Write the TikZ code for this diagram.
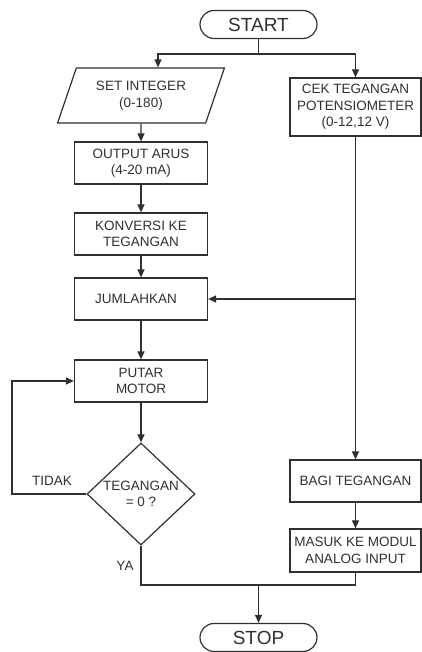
\documentclass[tikz,border=0pt]{standalone}
\usepackage{fontspec}
\setmainfont{Liberation Sans}
\usetikzlibrary{shapes.geometric, arrows.meta}

\definecolor{linegray}{HTML}{303030}

\tikzset{
  flow/.style={draw=linegray, line width=1.2pt, text=linegray, align=center,
    font=\fontsize{13.5}{16.5}\selectfont},
  proc/.style={flow, rectangle, minimum width=133pt, minimum height=42pt, inner sep=2pt},
  term/.style={flow, rectangle, rounded corners=14pt, minimum width=117pt,
    minimum height=28pt, font=\fontsize{19}{22}\selectfont},
  io/.style={flow, trapezium, trapezium left angle=65.6, trapezium right angle=114.4,
    trapezium stretches=true, minimum width=167pt, minimum height=55pt, inner sep=0pt},
  decide/.style={flow, diamond, aspect=1.06, minimum width=108pt, minimum height=102pt, inner sep=0pt},
  wire/.style={draw=linegray, line width=1.2pt},
  arr/.style={wire, -{Triangle[length=8pt, width=7pt]}},
}

\begin{document}
\begin{tikzpicture}[x=1pt, y=1pt]
  \useasboundingbox (0,0) rectangle (421,652);

  % terminals
  \node[term] (start) at (258.5,627.5) {START};
  \node[term] (stop)  at (258.5,14.5)  {STOP};

  % left column
  \node[io]   (setint) at (141,556.5) {SET INTEGER\\(0-180)};
  \node[proc] (arus)   at (141,489)   {OUTPUT ARUS\\(4-20 mA)};
  \node[proc] (konv)   at (141,418)   {KONVERSI KE\\TEGANGAN};
  \node[proc] (jumlah) at (141,353)   {JUMLAHKAN\hspace*{10pt}};
  \node[proc] (putar)  at (141,271)   {PUTAR\\MOTOR};
  \node[decide] (cek0) at (141,158)   {TEGANGAN\\= 0 ?};

  % right column
  \node[proc, minimum width=131pt, minimum height=58pt] (cekpot) at (355.5,545)
    {CEK TEGANGAN\\POTENSIOMETER\\(0-12,12 V)};
  \node[proc, minimum width=131pt] (bagi)  at (355.5,171)   {BAGI TEGANGAN};
  \node[proc, minimum width=131pt, minimum height=43pt] (masuk) at (355.5,101.5)
    {MASUK KE MODUL\\ANALOG INPUT};

  % fork under START
  \coordinate (fork) at (258.5,598);
  \draw[wire] (start) -- (fork);
  \draw[arr] (fork) -| ([xshift=17pt]setint.north);
  \draw[arr] (fork) -| (cekpot.north);

  \draw[arr] (setint) -- (arus);
  \draw[arr] (arus) -- (konv);
  \draw[arr] (konv) -- (jumlah);
  \draw[arr] (jumlah) -- (putar);
  \draw[arr] (putar) -- (cek0);

  % loop back (TIDAK)
  \coordinate (loopc) at (12,158);
  \draw[arr] (cek0.west) -- (loopc) |- (putar.west);
  \node[text=linegray, font=\fontsize{13.5}{16.5}\selectfont] (tidak) at (52,171) {TIDAK};

  % right branch
  \coordinate (tap) at (cekpot.south |- jumlah.east);
  \draw[arr] (tap) -- (jumlah.east);
  \draw[arr] (cekpot) -- (bagi);
  \draw[arr] (bagi) -- (masuk);

  % join to STOP (YA)
  \coordinate (join) at (258.5,67);
  \draw[wire] (cek0.south) |- (join) -| (masuk.south);
  \draw[arr] (join) -- (stop);
  \node[text=linegray, font=\fontsize{13.5}{16.5}\selectfont] (ya) at (125,86) {YA};
\end{tikzpicture}
\end{document}
